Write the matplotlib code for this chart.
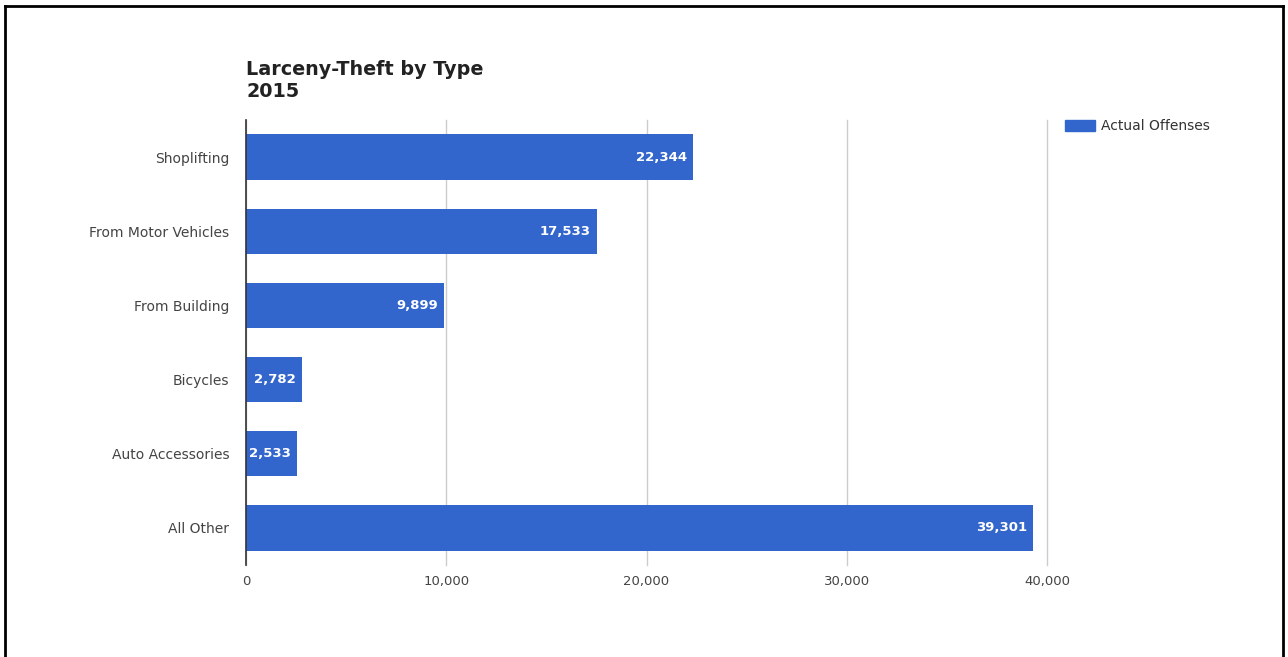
import matplotlib
matplotlib.use("Agg")
import matplotlib.pyplot as plt
from matplotlib.lines import Line2D
from matplotlib.patches import Rectangle
from matplotlib.ticker import FuncFormatter
from matplotlib.transforms import offset_copy

# Datos
categorias = ["Shoplifting", "From Motor Vehicles", "From Building",
              "Bicycles", "Auto Accessories", "All Other"]
valores = [22344, 17533, 9899, 2782, 2533, 39301]
ticks_x = [0, 10000, 20000, 30000, 40000]
serie = "Actual Offenses"
titulo = "Larceny-Theft by Type\n2015"

azul = "#3366cc"
plt.rcParams['font.family'] = ['DejaVu Sans']

W, H = 1288, 657
fig = plt.figure(figsize=(W / 100, H / 100), dpi=100)

# Área del gráfico en píxeles: x 246..1047, y 120..565
ax = fig.add_axes([246 / W, 1 - 565 / H, (1047 - 246) / W, (565 - 120) / H])

pos = list(range(len(categorias)))
ax.barh(pos, valores, height=0.61, color=azul, zorder=3)
ax.set_ylim(len(categorias) - 0.5, -0.5)
ax.set_xlim(0, 40000)
ax.set_yticks(pos)
ax.set_yticklabels(categorias, fontsize=10)
ax.set_xticks(ticks_x)
ax.xaxis.set_major_formatter(FuncFormatter(lambda v, p: f"{int(v):,}"))
ax.tick_params(axis='both', length=0, labelsize=9.5, colors="#444444")
ax.tick_params(axis='y', labelsize=10, pad=12)
ax.tick_params(axis='x', pad=7)
ax.grid(axis='x', color="#cccccc", linewidth=1, zorder=0)
for gl in ax.get_xgridlines():
    gl.set_clip_on(False)
for s in ["top", "right", "bottom"]:
    ax.spines[s].set_visible(False)
ax.spines["left"].set_color("#333333")
ax.spines["left"].set_linewidth(1.2)
ax.spines["left"].set_zorder(4)

# Etiquetas dentro de las barras
for p, v in zip(pos, valores):
    tr = offset_copy(ax.transData, fig=fig, x=-4.5, y=0, units='points')
    ax.text(v, p, f"{v:,}", transform=tr, ha='right', va='center',
            color='white', fontsize=9.5, fontweight='bold', zorder=5)

# Título
fig.text(246 / W, 1 - 60 / H, titulo, ha='left', va='top',
         fontsize=13.8, fontweight='bold', color="#222222", linespacing=1.2)

# Leyenda
fig.patches.append(Rectangle((1065 / W, 1 - 131 / H), 30 / W, 11 / H,
                             transform=fig.transFigure, color=azul))
fig.text(1101 / W, 1 - 126 / H, serie, ha='left', va='center',
         fontsize=10, color="#333333")

# Marco negro
for xs, ys in [([5, 5], [6, 657]), ([5, 1283], [6, 6]), ([1283, 1283], [6, 657])]:
    fig.add_artist(Line2D([x / W for x in xs], [1 - y / H for y in ys],
                          transform=fig.transFigure, color='black', linewidth=2))

fig.savefig("out.png", dpi=100)
